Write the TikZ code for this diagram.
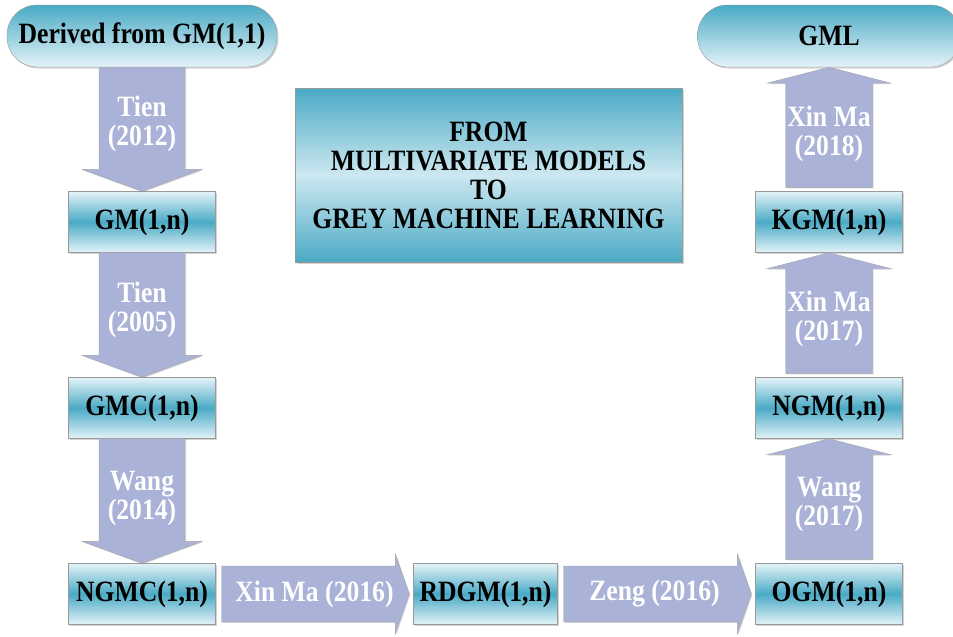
\documentclass[tikz,border=0pt]{standalone}
\usepackage{fontspec}
\setmainfont[FakeStretch=0.87]{Liberation Serif}
\usetikzlibrary{positioning}
\usetikzlibrary{shadows}

\definecolor{tealdark}{RGB}{74,170,197}
\definecolor{teallight}{RGB}{228,243,248}
\definecolor{arrowblue}{RGB}{170,178,215}

\begin{document}
\begin{tikzpicture}[x=1pt, y=-1pt, node distance =186pt and 343.5pt, on grid,
    font=\bfseries\fontsize{29.5}{29}\selectfont,
    boxshadow/.style={drop shadow={shadow xshift=1.5pt, shadow yshift=-1.5pt, opacity=0.35}},
    model/.style ={rectangle, draw=black!40, thin, top color=teallight, bottom color=teallight,
      middle color=tealdark, minimum width=147pt, minimum height=61pt, inner sep=0pt, boxshadow},
    terminal/.style ={rectangle, rounded corners=30pt, draw=black!40, thin, top color=tealdark,
      bottom color=teallight, minimum width=270pt, minimum height=62pt, inner sep=0pt, boxshadow},
    banner/.style ={rectangle, draw=black!40, thin, top color=tealdark, bottom color=tealdark,
      middle color=teallight!85!tealdark, minimum width=387pt, minimum height=174pt, align=center, boxshadow},
    blockarrow/.style ={fill=arrowblue, draw=black!35, thin,
      drop shadow={shadow xshift=1pt, shadow yshift=-1pt, opacity=0.3}},
    arrdown/.style ={blockarrow, to path={([xshift=-43pt]\tikztostart) -- ([xshift=-43pt,yshift=22pt]\tikztotarget)
      -- ([xshift=-60pt,yshift=22pt]\tikztotarget) -- (\tikztotarget) -- ([xshift=60pt,yshift=22pt]\tikztotarget)
      -- ([xshift=43pt,yshift=22pt]\tikztotarget) -- ([xshift=43pt]\tikztostart) -- cycle}},
    arrup/.style ={blockarrow, to path={([xshift=-43.5pt,yshift=4pt]\tikztostart) -- ([xshift=-43.5pt,yshift=-16pt]\tikztotarget)
      -- ([xshift=-62pt,yshift=-16pt]\tikztotarget) -- (\tikztotarget) -- ([xshift=62pt,yshift=-16pt]\tikztotarget)
      -- ([xshift=43.5pt,yshift=-16pt]\tikztotarget) -- ([xshift=43.5pt,yshift=4pt]\tikztostart) -- cycle}},
    arrright/.style ={blockarrow, to path={([xshift=6pt,yshift=28pt]\tikztostart) -- ([xshift=-18pt,yshift=28pt]\tikztotarget)
      -- ([xshift=-18pt,yshift=40pt]\tikztotarget) -- ([xshift=-4pt]\tikztotarget) -- ([xshift=-18pt,yshift=-40pt]\tikztotarget)
      -- ([xshift=-18pt,yshift=-28pt]\tikztotarget) -- ([xshift=6pt,yshift=-28pt]\tikztostart) -- cycle}},
    arrtext/.style ={text=white, align=center}]
    \useasboundingbox (0,0) rectangle (953,637);

    % left column
    \node[terminal] (dfm) at (142,36) {Derived from GM(1,1)};
    \node[model] (gm) [below =of dfm] {GM(1,n)};
    \node[model] (gmc) [below =of gm] {GMC(1,n)};
    \node[model] (ngmc) [below =of gmc] {NGMC(1,n)};
    % bottom row and right column
    \node[model, minimum width=144pt] (rdgm) [right =of ngmc] {RDGM(1,n)};
    \node[model] (ogm) [right =of rdgm] {OGM(1,n)};
    \node[model] (ngm) [above =of ogm] {NGM(1,n)};
    \node[model] (kgm) [above =of ngm] {KGM(1,n)};
    \node[terminal, minimum width=263pt] (gml) [above =of kgm] {GML};

    \node[banner] (title) at (488.5,175) {FROM\\MULTIVARIATE MODELS\\TO\\GREY MACHINE LEARNING};

    \path (dfm.south) edge[arrdown] (gm.north);
    \path (gm.south) edge[arrdown] (gmc.north);
    \path (gmc.south) edge[arrdown] (ngmc.north);
    \path (ngmc.east) edge[arrright] (rdgm.west);
    \path (rdgm.east) edge[arrright] (ogm.west);
    \path (ogm.north) edge[arrup] (ngm.south);
    \path (ngm.north) edge[arrup] (kgm.south);
    \path (kgm.north) edge[arrup] (gml.south);

    \path (dfm.south) -- node[arrtext, pos=0.46] {Tien\\(2012)} (gm.north);
    \path (gm.south) -- node[arrtext, pos=0.46] {Tien\\(2005)} (gmc.north);
    \path (gmc.south) -- node[arrtext, pos=0.48] {Wang\\(2014)} (ngmc.north);
    \path (ngmc.east) -- node[arrtext, pos=0.5] {Xin Ma (2016)} (rdgm.west);
    \path (rdgm.east) -- node[arrtext, pos=0.49] {Zeng (2016)} (ogm.west);
    \path (ogm.north) -- node[arrtext, pos=0.47] {Wang\\(2017)} (ngm.south);
    \path (ngm.north) -- node[arrtext, pos=0.47] {Xin Ma\\(2017)} (kgm.south);
    \path (kgm.north) -- node[arrtext, pos=0.46] {Xin Ma\\(2018)} (gml.south);
\end{tikzpicture}
\end{document}
